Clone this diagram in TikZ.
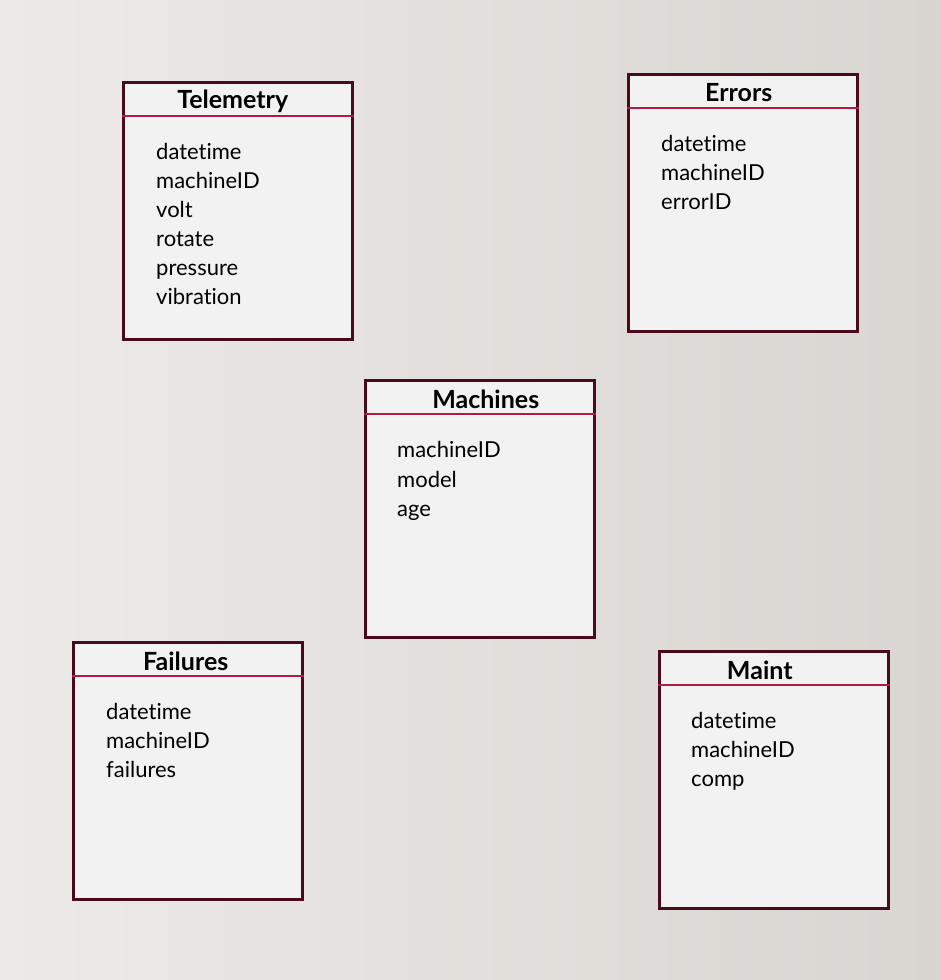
\documentclass[tikz,border=0pt]{standalone}
\usepackage{fontspec}
\setmainfont{Lato}[Ligatures=NoCommon]
\usetikzlibrary{positioning}

\definecolor{tableborder}{HTML}{4A0A1E}
\definecolor{headrule}{HTML}{B01C44}
\definecolor{tablefill}{HTML}{F2F2F2}
\definecolor{bglight}{HTML}{ECEAE7}
\definecolor{bgdark}{HTML}{D9D5D1}

\tikzset{
  tablebox/.style={draw=tableborder, line width=2.5pt, fill=tablefill,
    minimum width=229pt, minimum height=257pt, inner sep=0pt, anchor=north west},
  tabletitle/.style={font=\fontsize{25}{29}\selectfont\bfseries, inner sep=0pt},
  headline/.style={draw=headrule, line width=1.5pt},
  field/.style={font=\fontsize{22}{26}\selectfont, inner sep=0pt, anchor=base west},
}

\begin{document}
\begin{tikzpicture}[x=1pt, y=-1pt]
  % background
  \shade[left color=bglight, right color=bgdark] (0,0) rectangle (941,980);
  \useasboundingbox (0,0) rectangle (941,980);

  % tables
  \node[tablebox] (telemetry) at (122,81) {};
  \node[tablebox] (errors) at (627,73) {};
  \node[tablebox] (machines) at (364,379) {};
  \node[tablebox] (failures) at (72,641) {};
  \node[tablebox] (maint) at (658,650) {};

  % titles and header rules
  \foreach \t/\name/\dx in {telemetry/Telemetry/-5, errors/Errors/-4, machines/Machines/6,
                            failures/Failures/-2, maint/Maint/-14} {
    \node[tabletitle] (\t-title) at ([xshift=\dx pt,yshift=-20pt]\t.north) {\name};
    \draw[headline] ([yshift=-35pt]\t.north west) -- ([yshift=-35pt]\t.north east);
  }

  % fields
  \foreach \f [count=\i] in {datetime, machineID, volt, rotate, pressure, vibration}
    \node[field] (telemetry-\i) at ([xshift=34pt,yshift={-49pt-29pt*\i}]telemetry.north west) {\f};
  \foreach \f [count=\i] in {datetime, machineID, errorID}
    \node[field] (errors-\i) at ([xshift=34pt,yshift={-49pt-29pt*\i}]errors.north west) {\f};
  \foreach \f [count=\i] in {machineID, model, age}
    \node[field] (machines-\i) at ([xshift=33pt,yshift={-49pt-29.5pt*\i}]machines.north west) {\f};
  \foreach \f [count=\i] in {datetime, machineID, failures}
    \node[field] (failures-\i) at ([xshift=34pt,yshift={-49pt-29pt*\i}]failures.north west) {\f};
  \foreach \f [count=\i] in {datetime, machineID, comp}
    \node[field] (maint-\i) at ([xshift=33pt,yshift={-49pt-29pt*\i}]maint.north west) {\f};
\end{tikzpicture}
\end{document}
